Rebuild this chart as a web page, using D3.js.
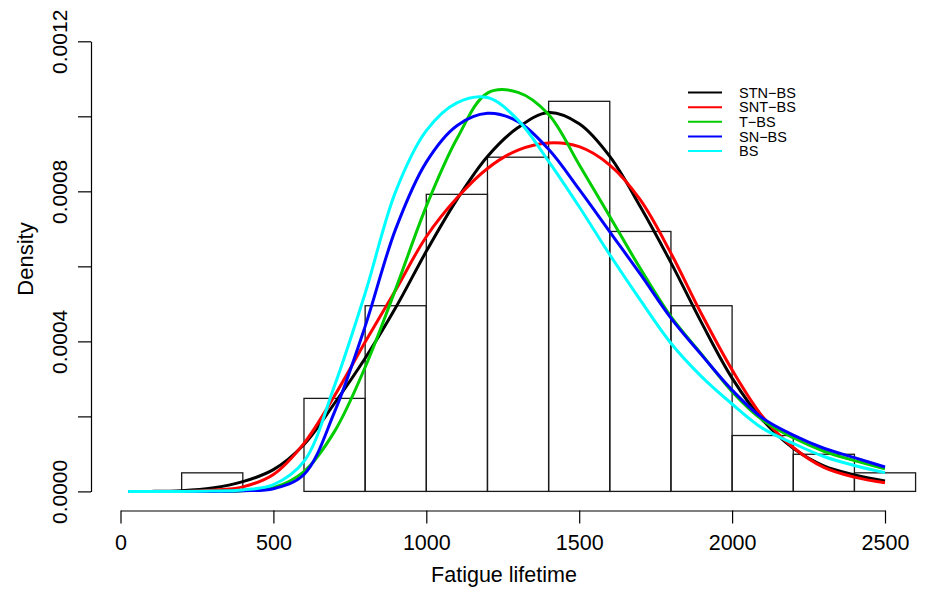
<!DOCTYPE html>
<html>
<head>
<meta charset="utf-8">
<script src="https://cdn.jsdelivr.net/npm/d3@7"></script>
<style>
  body { margin: 0; background: #fff; }
  svg { display: block; font-family: "Liberation Sans", Arial, Helvetica, sans-serif; }
</style>
</head>
<body>
<div id="chart"></div>
<script>
// histogram of fatigue lifetimes (density scale)
const binStarts = [200, 400, 600, 800, 1000, 1200, 1400, 1600, 1800, 2000, 2200, 2400];
const binWidth = 200;
const binDensity = [0.0000495, 0, 0.000248, 0.000495, 0.000792, 0.000891, 0.00104, 0.000693, 0.000495, 0.000149, 0.000099, 0.0000495];

// fitted densities
const gridX = [25, 100, 200, 300, 400, 500, 600, 700, 800, 900, 1000, 1100, 1200, 1300, 1400, 1500, 1600, 1700, 1800, 1900, 2000, 2100, 2200, 2300, 2400, 2500];
const stnBS = [0, 0, 0.000002, 0.000009, 0.000026, 0.000058, 0.000125, 0.000235, 0.000355, 0.00049, 0.00064, 0.000778, 0.000893, 0.00097, 0.00101, 0.00098, 0.000893, 0.000759, 0.00061, 0.00045, 0.000302, 0.00019, 0.000115, 0.000068, 0.000044, 0.000028];
const sntBS = [0, 0, 0, 0.000003, 0.000012, 0.000045, 0.000128, 0.000255, 0.000398, 0.000537, 0.000679, 0.000782, 0.000861, 0.00091, 0.000929, 0.000919, 0.00087, 0.000777, 0.000635, 0.000473, 0.000324, 0.000199, 0.000117, 0.000064, 0.000038, 0.000023];
const tBS = [0, 0, 0, 0, 0.000002, 0.00001, 0.000053, 0.00016, 0.000331, 0.00054, 0.00076, 0.00094, 0.001062, 0.001064, 0.001005, 0.000871, 0.000733, 0.000594, 0.000466, 0.000366, 0.000266, 0.00019, 0.000143, 0.000107, 0.000082, 0.00006];
const snBS = [0, 0, 0, 0, 0.000002, 0.000007, 0.000045, 0.000212, 0.00044, 0.0007, 0.000878, 0.000975, 0.001008, 0.000986, 0.000912, 0.000805, 0.000692, 0.000579, 0.000462, 0.000364, 0.00027, 0.000195, 0.00015, 0.000115, 0.00009, 0.000065];
const bs = [0, 0, 0, 0.000001, 0.000004, 0.000018, 0.00008, 0.000282, 0.000528, 0.0008, 0.000962, 0.001036, 0.00105, 0.00099, 0.00088, 0.000759, 0.000631, 0.00051, 0.000395, 0.000306, 0.000233, 0.000168, 0.000128, 0.000093, 0.000069, 0.00005];

const seriesNames = ["STN\u2212BS", "SNT\u2212BS", "T\u2212BS", "SN\u2212BS", "BS"];
const seriesColors = ["#000000", "#ff0000", "#00cd00", "#0000ff", "#00ffff"];
const seriesValues = [stnBS, sntBS, tBS, snBS, bs];

const xTicks = [0, 500, 1000, 1500, 2000, 2500];
const yTicks = [0, 0.0002, 0.0004, 0.0006, 0.0008, 0.001, 0.0012];
const yLabelled = [0, 0.0004, 0.0008, 0.0012];

const width = 927;
const height = 590;

const x = d3.scaleLinear().domain([0, 2500]).range([120.5, 885]);
const y = d3.scaleLinear().domain([0, 0.0012]).range([491.4, 41.3]);

const svg = d3.select("#chart")
  .append("svg")
  .attr("width", width)
  .attr("height", height);

svg.append("rect")
  .attr("width", width)
  .attr("height", height)
  .attr("fill", "#fff");

// bars
svg.append("g")
  .attr("fill", "none")
  .attr("stroke", "#1a1a1a")
  .attr("stroke-width", 1.3)
  .selectAll("rect")
  .data(binStarts)
  .join("rect")
  .attr("x", d => x(d))
  .attr("y", (d, i) => y(binDensity[i]))
  .attr("width", d => x(d + binWidth) - x(d))
  .attr("height", (d, i) => y(0) - y(binDensity[i]));

// curves
const line = d3.line()
  .x((d, i) => x(gridX[i]))
  .y(d => y(d))
  .curve(d3.curveCatmullRom.alpha(0.5));

svg.append("g")
  .attr("fill", "none")
  .attr("stroke-width", 3)
  .attr("stroke-linejoin", "round")
  .selectAll("path")
  .data(seriesValues)
  .join("path")
  .attr("stroke", (d, i) => seriesColors[i])
  .attr("d", line);

// axes
const xAxis = svg.append("g")
  .attr("transform", "translate(0,510.5)")
  .call(d3.axisBottom(x).tickValues(xTicks).tickSize(13).tickSizeOuter(0).tickFormat(d3.format("d")));
xAxis.selectAll("text")
  .attr("y", 39.5)
  .attr("dy", null)
  .attr("fill", "#000")
  .style("font-size", "21.5px");

const yAxis = svg.append("g")
  .attr("transform", "translate(91,0)")
  .call(d3.axisLeft(y).tickValues(yTicks).tickSize(13).tickSizeOuter(0)
    .tickFormat(d => yLabelled.some(v => Math.abs(v - d) < 1e-9) ? d3.format(".4f")(d) : ""));
yAxis.selectAll("text")
  .attr("transform", "rotate(-90)")
  .attr("x", 0)
  .attr("y", -24.5)
  .attr("dy", null)
  .attr("text-anchor", "middle")
  .attr("fill", "#000")
  .style("font-size", "21px");

svg.selectAll(".domain, .tick line").attr("stroke", "#000").attr("stroke-width", 1.2);

svg.append("text")
  .attr("x", 504)
  .attr("y", 581.5)
  .attr("text-anchor", "middle")
  .style("font-size", "21.5px")
  .text("Fatigue lifetime");

svg.append("text")
  .attr("transform", "translate(33,259) rotate(-90)")
  .attr("text-anchor", "middle")
  .style("font-size", "22px")
  .text("Density");

// legend
const legend = svg.append("g")
  .selectAll("g")
  .data(seriesNames)
  .join("g")
  .attr("transform", (d, i) => `translate(688,${92.6 + i * 14.6})`);

legend.append("line")
  .attr("x1", 0)
  .attr("x2", 34)
  .attr("stroke", (d, i) => seriesColors[i])
  .attr("stroke-width", 2);

legend.append("text")
  .attr("x", 51)
  .attr("dy", "0.36em")
  .style("font-size", "14.5px")
  .text(d => d);
</script>
</body>
</html>
